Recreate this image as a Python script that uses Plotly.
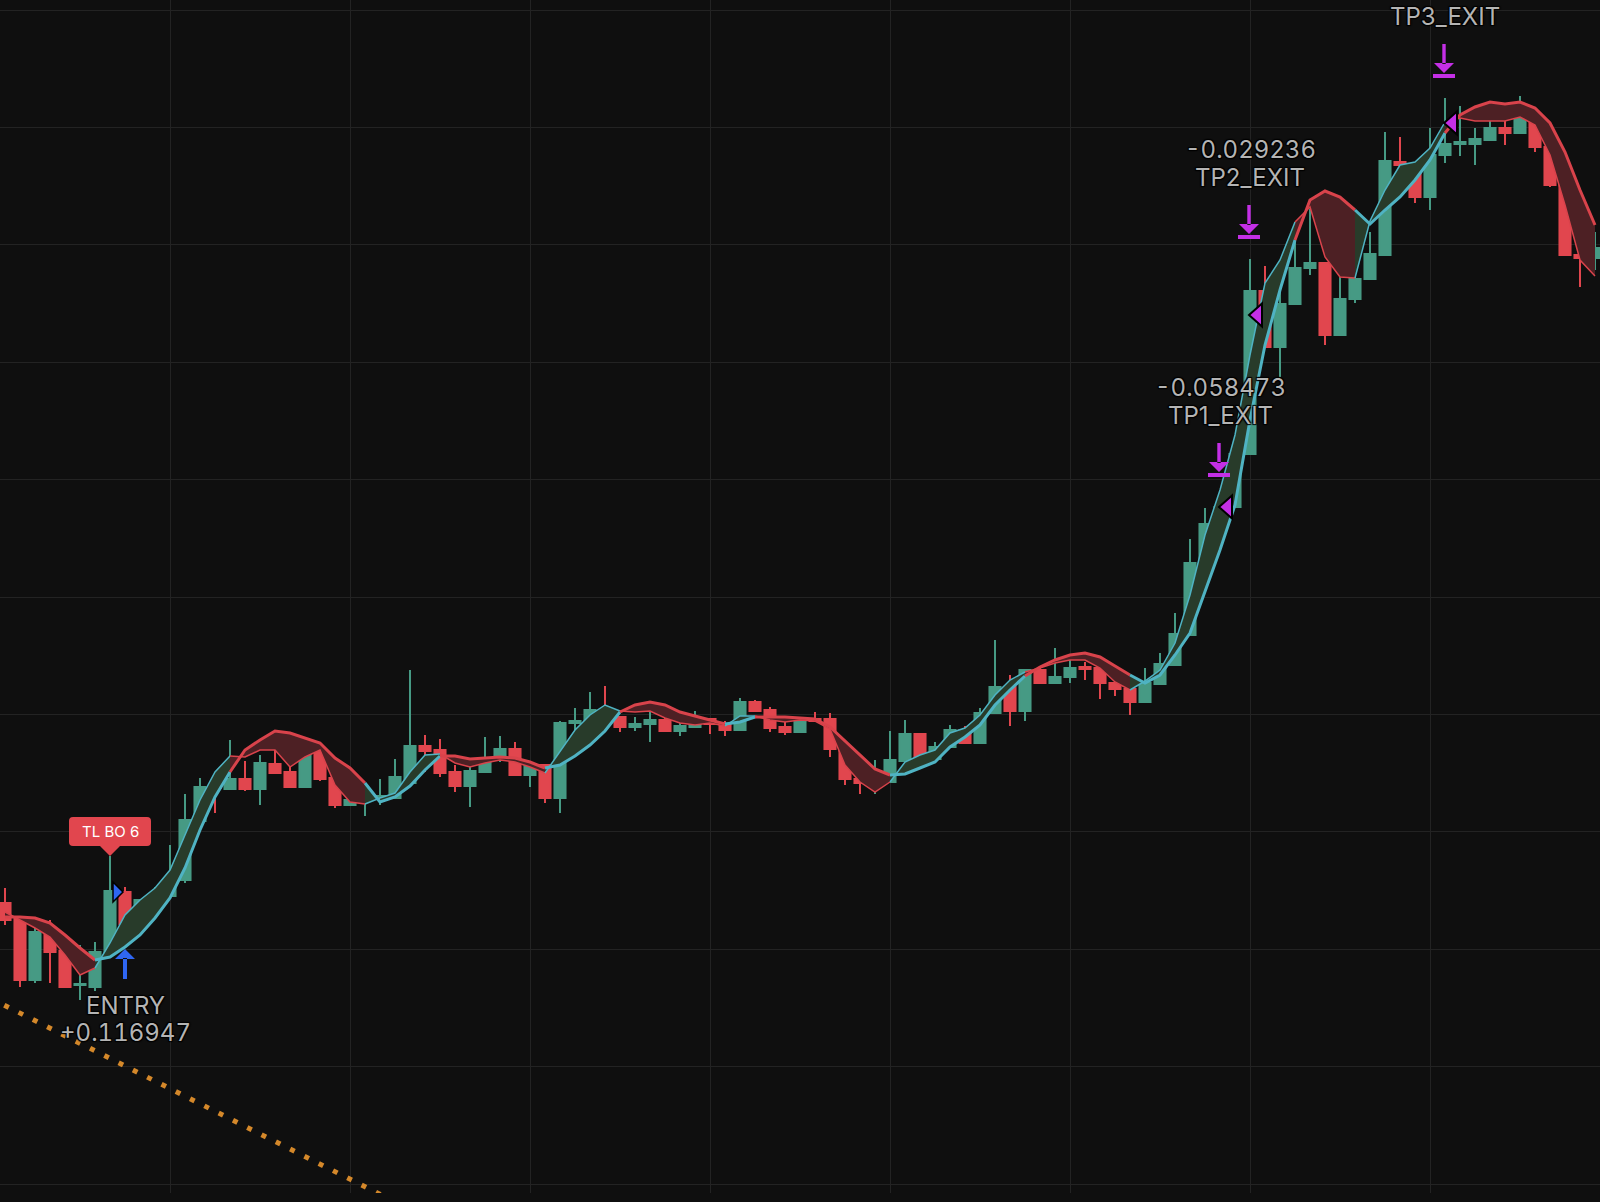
import plotly.graph_objects as go

# ---------------- data (price units) ----------------
open_ = [297,283,220,268,249,215,213,247,308,275,299,304,320,379,414,411,421,411,436,428,
         413,449,422,395,399,403,402,417,454,450,428,414,428,440,451,425,435,402,477,476,
         490,483,473,476,480,469,473,481,476,470,498,490,473,468,481,481,452,421,418,418,
         439,466,441,453,470,457,487,513,489,530,517,523,533,532,517,511,498,516,535,565,
         637,675,693,746,909,853,896,932,937,865,901,921,945,1038,1036,1003,1045,1056,1056,1060,
         1072,1067,1081,1053,1016,945,942]
high = [312,284,283,280,252,255,258,344,313,300,313,355,406,422,415,460,439,445,463,449,
        450,458,423,430,412,421,441,530,465,461,435,433,463,464,458,438,436,479,492,508,
        514,484,483,494,484,477,489,482,479,502,500,493,480,483,488,487,453,445,440,469,
        480,467,458,475,474,492,560,525,531,534,552,542,538,543,518,517,532,547,587,661,
        692,703,750,941,934,925,978,991,938,933,963,968,1068,1063,1037,1072,1102,1094,1072,1093,
        1080,1104,1082,1058,1017,965,968]
low = [275,213,217,217,212,200,209,245,273,266,281,303,317,378,387,410,409,395,426,412,
       412,419,392,394,384,395,401,416,428,423,408,393,427,438,424,413,397,387,452,475,
       480,468,469,458,468,464,472,466,464,469,488,468,465,467,478,443,415,406,406,417,
       429,440,440,452,456,456,486,474,479,516,516,517,520,501,504,485,497,515,534,564,
       628,674,692,745,852,823,895,925,855,864,897,920,944,1020,997,990,1037,1044,1035,1059,
       1055,1066,1048,1013,944,913,930]
close = [280,220,268,248,213,216,248,309,276,300,305,321,380,413,412,421,411,437,427,413,
         449,421,395,400,402,404,423,454,449,427,414,429,441,451,425,435,402,477,479,490,
         483,473,476,480,469,474,481,476,470,498,489,472,468,481,479,451,421,417,420,440,
         466,441,453,470,457,487,513,489,530,517,523,532,531,517,511,498,517,536,566,637,
         676,693,746,909,853,896,932,937,865,901,921,946,1039,1035,1003,1045,1056,1058,1061,1072,
         1067,1081,1053,1015,945,942,952]
fast_ma = [288,280,272,263,245,225,232,257,285,300,312,330,365,400,428,444,443,450,450,433,
           443,450,415,398,396,402,407,428,445,446,437,433,437,440,438,433,427,448,470,485,
           495,489,488,489,482,477,475,477,474,484,484,480,478,480,479,471,435,418,408,418,
           438,445,450,467,472,485,505,520,528,532,537,540,540,532,518,510,519,530,557,605,
           665,710,765,845,917,940,978,993,943,923,922,979,1010,1035,1038,1052,1078,1082,1079,1079,
           1079,1083,1075,1045,995,940,924]
slow_ma = [283,283,282,277,265,252,240,243,253,265,282,302,332,370,403,428,450,460,469,467,
           462,457,442,432,417,398,403,414,430,444,444,441,442,443,442,438,432,435,444,455,
           469,488,495,498,495,488,484,480,476,478,483,483,483,482,481,473,459,444,431,425,
           426,432,438,453,463,475,495,510,524,533,540,545,547,543,534,525,517,525,545,567,
           608,650,695,780,855,910,960,1000,1009,1003,990,976,990,1003,1020,1040,1067,1085,1093,1098,
           1096,1098,1092,1077,1048,1010,975]

signal_bar = 7            # breakout bar carrying the "TL BO 6" tag
signal_text = "TL BO 6"
entry_price = 308
entry_bar = 8
entry_pnl = "+0.116947"
tp_bars = [81, 83, 96]
tp_prices = [693, 885, 1077]
tp_names = ["TP1_EXIT", "TP2_EXIT", "TP3_EXIT"]
tp_pnl = ["-0.058473", "-0.029236", ""]
trend_x = [-1, 30]
trend_y = [202, -32]
grid_bars = [11, 23, 35, 47, 59, 71, 83, 95]

# ---------------- styles ----------------
BG = "#0f0f0f"
GRID = "#232323"
GREEN = "#469a84"
RED = "#e1464e"
TEAL = "#4fb3c3"
RED_LINE = "#d9434b"
FILL_UP = "#283b2a"
FILL_DN = "#4d2024"
PURPLE = "#c42fe6"
BLUE = "#2f66f2"
TXT = "#b4b4b4"
FONT = "Inter, Roboto, sans-serif"
SHADOW = "1px 1px 1px #000, -1px -1px 1px #000, 1px -1px 1px #000, -1px 1px 1px #000"


def tab(s):
    return '<span style="font-variant-numeric:tabular-nums">' + s + '</span>'


n = len(close)
idx = list(range(n))
bull = [f >= s for f, s in zip(fast_ma, slow_ma)]
runs = []
st = 0
for i in range(1, n):
    if bull[i] != bull[st]:
        runs.append((st, i - 1, bull[st]))
        st = i
runs.append((st, n - 1, bull[st]))

fig = go.Figure()

# cloud fills
for a, b, up in runs:
    a0 = max(a - 1, 0)
    xs = idx[a0:b + 1]
    fig.add_trace(go.Scatter(
        x=xs + xs[::-1],
        y=fast_ma[a0:b + 1] + slow_ma[a0:b + 1][::-1],
        fill="toself", fillcolor=FILL_UP if up else FILL_DN,
        mode="lines", line=dict(width=0), hoverinfo="skip"))

# trendline
fig.add_trace(go.Scatter(x=trend_x, y=trend_y, mode="lines",
                         line=dict(color="#d4882a", width=5, dash="5px,11px"),
                         hoverinfo="skip"))

# candles
fig.add_trace(go.Candlestick(
    x=idx, open=open_, high=high, low=low, close=close,
    increasing=dict(line=dict(color=GREEN, width=2), fillcolor=GREEN),
    decreasing=dict(line=dict(color=RED, width=2), fillcolor=RED),
    whiskerwidth=0, hoverinfo="skip"))

# MA lines
for a, b, up in runs:
    a0 = max(a - 1, 0)
    xs = idx[a0:b + 1]
    col = TEAL if up else RED_LINE
    fig.add_trace(go.Scatter(x=xs, y=slow_ma[a0:b + 1], mode="lines",
                             line=dict(color=col, width=3), hoverinfo="skip"))
    fig.add_trace(go.Scatter(x=xs, y=fast_ma[a0:b + 1], mode="lines",
                             line=dict(color=col, width=1.5), hoverinfo="skip"))

shapes = []
annotations = []


def pix_shape(xa, ya, path, fill, line_color=None, line_width=0):
    return dict(type="path", xref="x", yref="y", xsizemode="pixel", ysizemode="pixel",
                xanchor=xa, yanchor=ya, path=path, fillcolor=fill,
                line=dict(color=line_color or fill, width=line_width), layer="above")


# signal tag
shapes.append(pix_shape(signal_bar, high[signal_bar],
                        "M-37,10 L-10,10 L0,0 L10,10 L37,10 Q41,10 41,14 L41,35 Q41,39 37,39 "
                        "L-37,39 Q-41,39 -41,35 L-41,14 Q-41,10 -37,10 Z", RED))
annotations.append(dict(x=signal_bar, y=high[signal_bar], xref="x", yref="y", yshift=24.5,
                        text=signal_text, showarrow=False, yanchor="middle",
                        font=dict(family=FONT, size=15, color="#ffffff")))

# entry marker
shapes.append(pix_shape(signal_bar, entry_price, "M3,-10 L13,0 L3,10 Z", BLUE, "#000000", 1.5))
shapes.append(pix_shape(entry_bar, low[entry_bar],
                        "M-10,-32 L0,-22 L10,-32 Z M-2,-31 L2,-31 L2,-52 L-2,-52 Z", BLUE))
annotations.append(dict(x=entry_bar, y=low[entry_bar], xref="x", yref="y", yshift=-78,
                        text="ENTRY", showarrow=False, yanchor="middle",
                        font=dict(family=FONT, size=24, color=TXT, shadow=SHADOW)))
annotations.append(dict(x=entry_bar, y=low[entry_bar], xref="x", yref="y", yshift=-105,
                        text=tab(entry_pnl), showarrow=False, yanchor="middle",
                        font=dict(family=FONT, size=24, color=TXT, shadow=SHADOW)))

# take-profit exits
for b, p, name, pnl in zip(tp_bars, tp_prices, tp_names, tp_pnl):
    shapes.append(pix_shape(b, p, "M12,-11.5 L-1,0 L12,11.5 Z", PURPLE, "#000000", 2))
    shapes.append(pix_shape(b, high[b],
                            "M-12,20 L10,20 L10,24 L-12,24 Z M-11,35 L-1,25 L9,35 Z "
                            "M-2.7,34 L0.7,34 L0.7,54 L-2.7,54 Z", PURPLE))
    annotations.append(dict(x=b, y=high[b], xref="x", yref="y", yshift=82,
                            text=name, showarrow=False, yanchor="middle",
                            font=dict(family=FONT, size=24, color=TXT, shadow=SHADOW)))
    if pnl:
        annotations.append(dict(x=b, y=high[b], xref="x", yref="y", yshift=110,
                                text=tab(pnl), showarrow=False, yanchor="middle",
                                font=dict(family=FONT, size=24, color=TXT, shadow=SHADOW)))

fig.update_layout(
    width=1600, height=1202,
    margin=dict(l=0, r=0, t=0, b=9, pad=0),
    paper_bgcolor=BG, plot_bgcolor=BG,
    showlegend=False, hovermode=False,
    boxgap=0.16, boxgroupgap=0.12,
    shapes=shapes, annotations=annotations,
    xaxis=dict(range=[-1 / 3, n - 2 / 3], tickmode="array", tickvals=grid_bars,
               showticklabels=False, ticks="", showgrid=True, gridcolor=GRID, gridwidth=1,
               zeroline=False, showline=False, rangeslider=dict(visible=False), fixedrange=True),
    yaxis=dict(range=[7, 1200], tickmode="linear", tick0=16, dtick=117.4,
               showticklabels=False, ticks="", showgrid=True, gridcolor=GRID, gridwidth=1,
               zeroline=False, showline=False, fixedrange=True),
)

page_fix = ("document.body.style.margin='0px';document.body.style.padding='0px';"
            "document.body.style.overflow='hidden';document.body.style.background='#0f0f0f';"
            "document.documentElement.style.background='#0f0f0f';")

fig.write_html("out.html", post_script=page_fix, config=dict(displayModeBar=False))
